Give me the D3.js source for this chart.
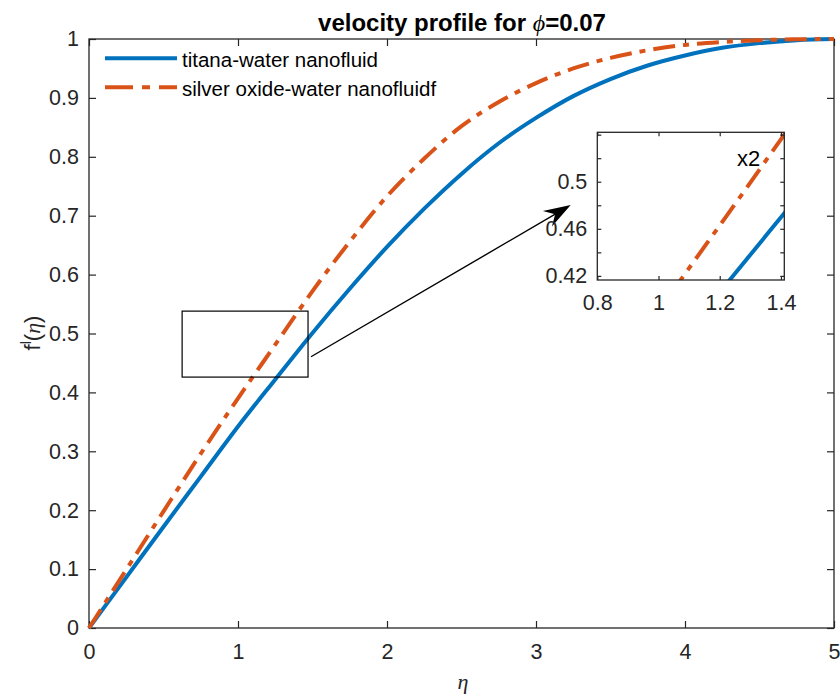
<!DOCTYPE html>
<html lang="en">
<head>
<meta charset="UTF-8">
<title>velocity profile</title>
<script src="https://cdn.jsdelivr.net/npm/d3@7"></script>
<style>
    body{ margin:0; background:#fff; }
    svg{ display:block; font-family:"Liberation Sans", Arial, Helvetica, sans-serif; }
    .tick text{ fill:#262626; }
    .tick line{ stroke:#262626; stroke-width:1.2; }
</style>
</head>
<body>
<script>
    // eta grid and the two f'(eta) curves
    var eta      = [0,0.25,0.5,0.75,1,1.25,1.5,1.75,2,2.25,2.5,2.75,3,3.25,3.5,3.75,4,4.25,4.5,4.75,5];
    var titana   = [0,0.086,0.172,0.257,0.342,0.422,0.501,0.576,0.647,0.712,0.771,0.823,0.866,0.903,0.932,0.955,0.972,0.985,0.993,0.998,1];
    var silverOx = [0,0.099,0.198,0.296,0.390,0.481,0.572,0.656,0.733,0.797,0.852,0.893,0.925,0.950,0.968,0.981,0.990,0.995,0.998,0.9995,1];
    var seriesNames = ['titana-water nanofluid','silver oxide-water nanofluidf'];

    var xTicks = [0,1,2,3,4,5];
    var yTicks = [0,0.1,0.2,0.3,0.4,0.5,0.6,0.7,0.8,0.9,1];

    // zoom box and inset
    var zoomX = [0.625,1.47], zoomY = [0.426,0.538];
    var insetX = [0.8,1.411], insetY = [0.4165,0.542];
    var insetXTicks = [0.8,1,1.2,1.4];
    var insetYTicks = [0.42,0.44,0.46,0.48,0.5,0.52,0.54];
    var insetYLabels = [0.42,0.46,0.5];
    var arrowFrom = [1.49,0.4605], arrowTo = [3.233,0.718];

    var W = 840, H = 697;
    var blue = '#0072BD', orange = '#D95319', axisCol = '#262626';
    var dash = '22,8,6,8';

    var svg = d3.select('body').append('svg').attr('width',W).attr('height',H);

    var x = d3.scaleLinear().domain([0,5]).range([89,834]);
    var y = d3.scaleLinear().domain([0,1]).range([628,39]);

    var data = [titana, silverOx].map(function(s){
        return s.map(function(v,i){ return {x:eta[i], y:v}; });
    });

    // axes
    svg.append('g').attr('transform','translate(0,628)')
        .call(d3.axisBottom(x).tickValues(xTicks).tickSize(-7).tickPadding(16).tickFormat(d3.format('')))
        .call(function(g){ g.select('.domain').remove(); g.selectAll('text').attr('font-size',21.5); });
    svg.append('g').attr('transform','translate(0,39)')
        .call(d3.axisTop(x).tickValues(xTicks).tickSize(-7).tickFormat(''))
        .call(function(g){ g.select('.domain').remove(); });
    svg.append('g').attr('transform','translate(89,0)')
        .call(d3.axisLeft(y).tickValues(yTicks).tickSize(-7).tickPadding(10).tickFormat(d3.format('')))
        .call(function(g){ g.select('.domain').remove(); g.selectAll('text').attr('font-size',21.5); });
    svg.append('g').attr('transform','translate(834,0)')
        .call(d3.axisRight(y).tickValues(yTicks).tickSize(-7).tickFormat(''))
        .call(function(g){ g.select('.domain').remove(); });

    svg.append('rect').attr('x',89).attr('y',39).attr('width',834-89).attr('height',628-39)
        .attr('fill','none').attr('stroke',axisCol).attr('stroke-width',1.3);

    // curves
    var line = d3.line().x(function(d){return x(d.x);}).y(function(d){return y(d.y);}).curve(d3.curveMonotoneX);
    svg.append('path').datum(data[0]).attr('d',line).attr('fill','none')
        .attr('stroke',blue).attr('stroke-width',4);
    svg.append('path').datum(data[1]).attr('d',line).attr('fill','none')
        .attr('stroke',orange).attr('stroke-width',4).attr('stroke-dasharray',dash);

    // zoom rectangle and arrow
    svg.append('rect')
        .attr('x',x(zoomX[0])).attr('y',y(zoomY[1]))
        .attr('width',x(zoomX[1])-x(zoomX[0])).attr('height',y(zoomY[0])-y(zoomY[1]))
        .attr('fill','none').attr('stroke','#000').attr('stroke-width',1.2);

    var ax0 = x(arrowFrom[0]), ay0 = y(arrowFrom[1]), ax1 = x(arrowTo[0]), ay1 = y(arrowTo[1]);
    var ang = Math.atan2(ay1-ay0, ax1-ax0);
    svg.append('line').attr('x1',ax0).attr('y1',ay0).attr('x2',ax1-14*Math.cos(ang)).attr('y2',ay1-14*Math.sin(ang))
        .attr('stroke','#000').attr('stroke-width',1.4);
    svg.append('path').attr('d','M0,0L-27,-9L-18,0L-27,9Z')
        .attr('transform','translate('+ax1+','+ay1+') rotate('+(ang*180/Math.PI)+')').attr('fill','#000');

    // inset axes
    var ix = d3.scaleLinear().domain(insetX).range([597.3,784.3]);
    var iy = d3.scaleLinear().domain(insetY).range([280,132.3]);

    svg.append('rect').attr('x',597.3).attr('y',132.3).attr('width',784.3-597.3).attr('height',280-132.3)
        .attr('fill','#fff');
    svg.append('clipPath').attr('id','insetClip').append('rect')
        .attr('x',597.3).attr('y',132.3).attr('width',784.3-597.3).attr('height',280-132.3);

    var iline = d3.line().x(function(d){return ix(d.x);}).y(function(d){return iy(d.y);}).curve(d3.curveMonotoneX);
    var ig = svg.append('g').attr('clip-path','url(#insetClip)');
    ig.append('path').datum(data[0]).attr('d',iline).attr('fill','none')
        .attr('stroke',blue).attr('stroke-width',4);
    ig.append('path').datum(data[1]).attr('d',iline).attr('fill','none')
        .attr('stroke',orange).attr('stroke-width',4).attr('stroke-dasharray',dash);

    svg.append('g').attr('transform','translate(0,280)')
        .call(d3.axisBottom(ix).tickValues(insetXTicks).tickSize(-4).tickPadding(15).tickFormat(d3.format('')))
        .call(function(g){ g.select('.domain').remove(); g.selectAll('text').attr('font-size',21.5); });
    svg.append('g').attr('transform','translate(0,132.3)')
        .call(d3.axisTop(ix).tickValues(insetXTicks).tickSize(-4).tickFormat(''))
        .call(function(g){ g.select('.domain').remove(); });
    svg.append('g').attr('transform','translate(597.3,0)')
        .call(d3.axisLeft(iy).tickValues(insetYTicks).tickSize(-4).tickPadding(10)
            .tickFormat(function(d){ return insetYLabels.some(function(v){return Math.abs(v-d)<1e-9;}) ? d3.format('')(d) : ''; }))
        .call(function(g){ g.select('.domain').remove(); g.selectAll('text').attr('font-size',21.5); });
    svg.append('g').attr('transform','translate(784.3,0)')
        .call(d3.axisRight(iy).tickValues(insetYTicks).tickSize(-4).tickFormat(''))
        .call(function(g){ g.select('.domain').remove(); });
    svg.append('rect').attr('x',597.3).attr('y',132.3).attr('width',784.3-597.3).attr('height',280-132.3)
        .attr('fill','none').attr('stroke',axisCol).attr('stroke-width',1.3);

    svg.append('text').attr('x',737).attr('y',166).attr('font-size',22).attr('fill','#000').text('x2');

    // legend
    var legY = [58.3,87.3];
    seriesNames.forEach(function(name,i){
        svg.append('line').attr('x1',105).attr('x2',177).attr('y1',legY[i]).attr('y2',legY[i])
            .attr('stroke', i ? orange : blue).attr('stroke-width',4)
            .attr('stroke-dasharray', i ? '28,9,8,9' : null);
        svg.append('text').attr('x',182).attr('y',legY[i]+8.5).attr('font-size',20.5).attr('fill','#000').text(name);
    });

    // title
    var title = svg.append('text').attr('x',462).attr('y',31).attr('text-anchor','middle')
        .attr('font-size',24).attr('font-weight','bold').attr('fill','#000');
    title.append('tspan').text('velocity profile for ');
    title.append('tspan').attr('font-family','"Liberation Serif", "DejaVu Serif", serif').attr('font-style','italic').attr('font-weight','normal').text('\u03D5');
    title.append('tspan').text('=0.07');

    // axis labels
    svg.append('text').attr('x',463).attr('y',689).attr('text-anchor','middle')
        .attr('font-family','"Liberation Serif", "DejaVu Serif", serif').attr('font-style','italic')
        .attr('font-size',22).attr('fill','#262626').text('\u03B7');

    var yl = svg.append('text').attr('transform','translate(40,333) rotate(-90)').attr('text-anchor','middle')
        .attr('font-size',22).attr('fill','#262626');
    yl.append('tspan').text('f');
    yl.append('tspan').attr('font-size',14).attr('dy',-9).text('l');
    yl.append('tspan').attr('dy',9).attr('font-size',22).text('(');
    yl.append('tspan').attr('font-family','"Liberation Serif", "DejaVu Serif", serif').attr('font-style','italic').text('\u03B7');
    yl.append('tspan').text(')');
</script>
</body>
</html>
